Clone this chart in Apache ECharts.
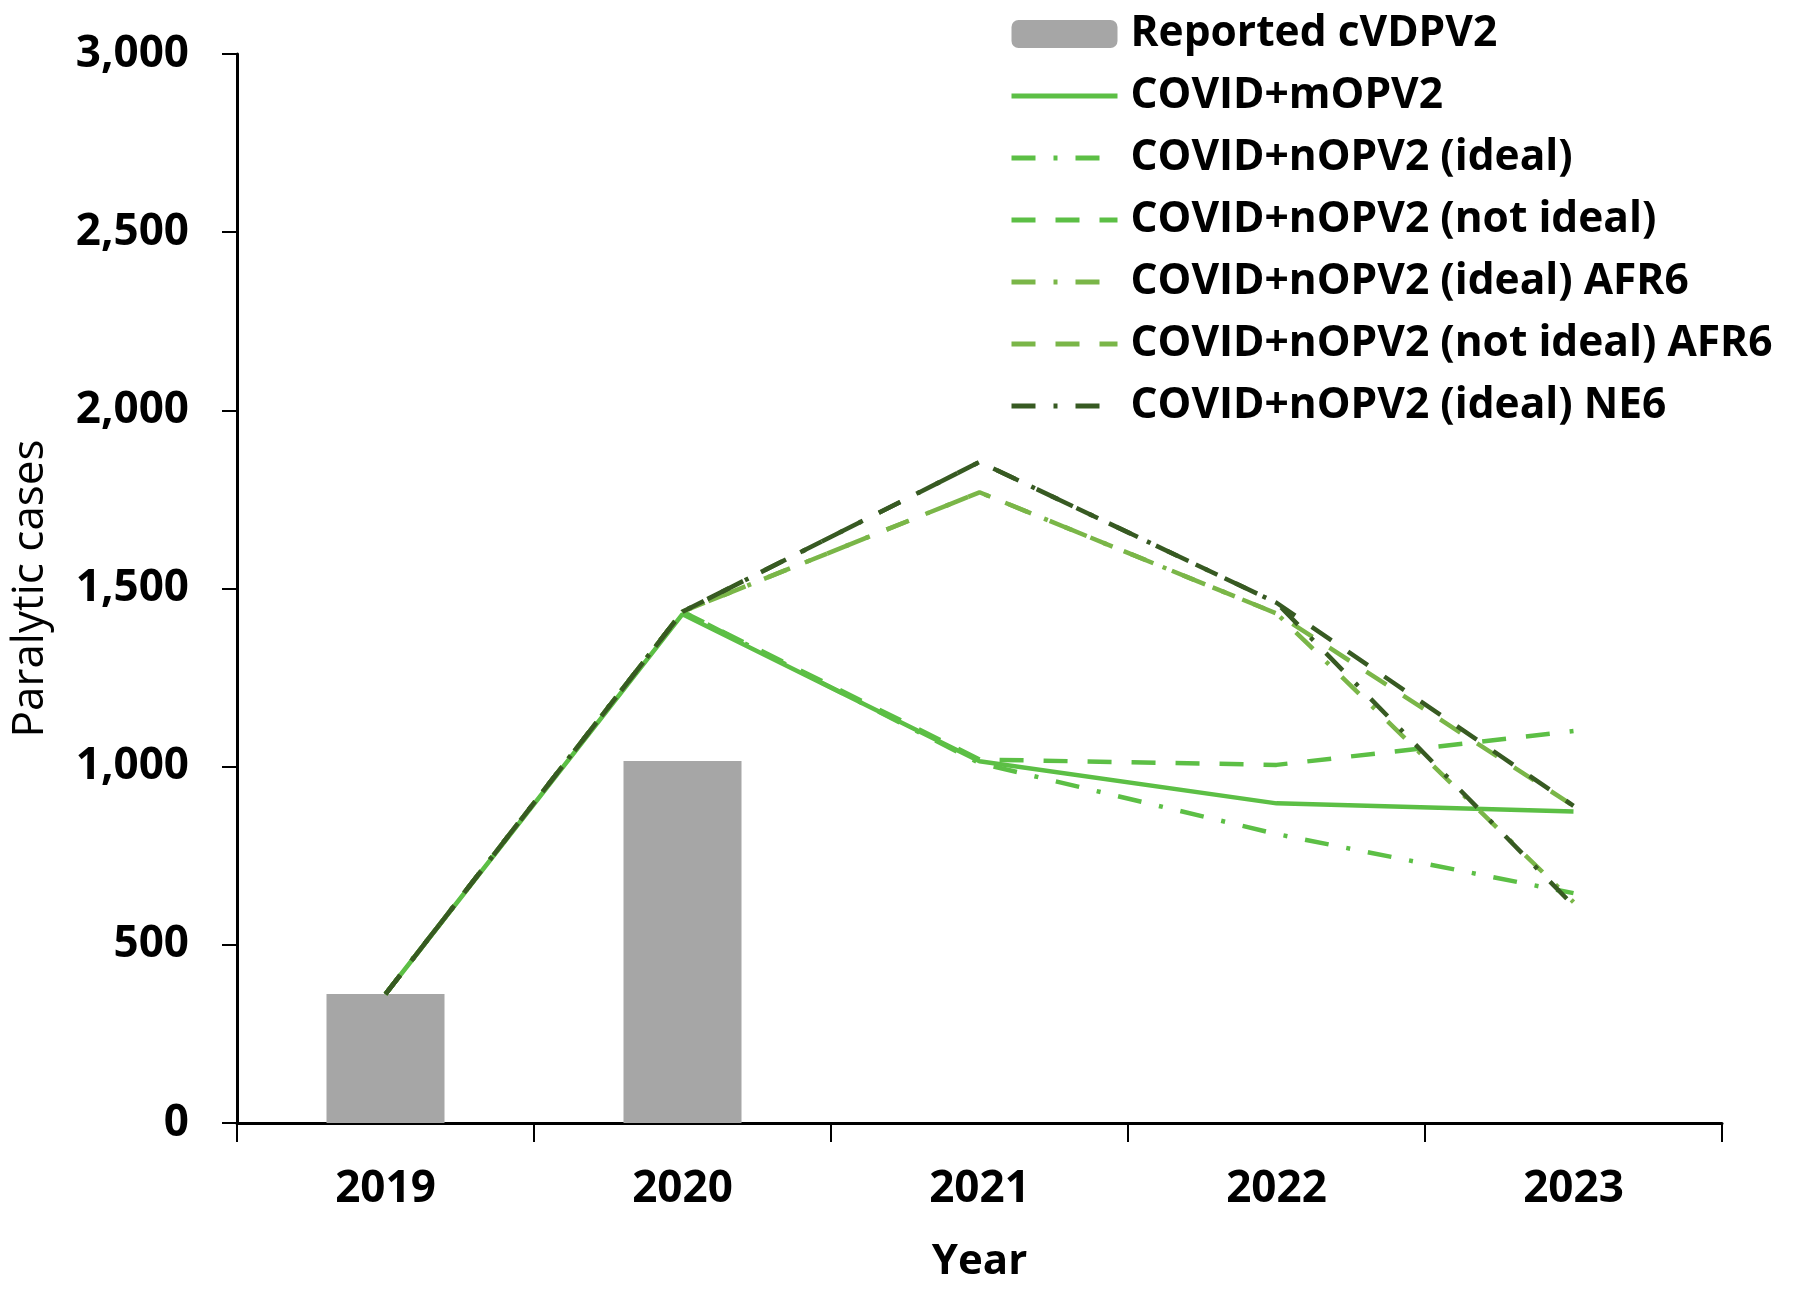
<!DOCTYPE html>
<html>
<head>
<meta charset="utf-8">
<script src="https://cdn.jsdelivr.net/npm/echarts@6/dist/echarts.min.js"></script>
<style>
html,body{margin:0;padding:0;background:#fff;}
#chart{width:1800px;height:1291px;}
</style>
</head>
<body>
<div id="chart"></div>
<script>
var years = ['2019', '2020', '2021', '2022', '2023'];
var reported = [362, 1016, null, null, null];
var mOPV2 = [362, 1428, 1015, 897, 874];
var nOPV2Ideal = [362, 1435, 1010, 811, 645];
var nOPV2NotIdeal = [362, 1435, 1020, 1005, 1100];
var nOPV2IdealAFR6 = [362, 1435, 1770, 1430, 620];
var nOPV2NotIdealAFR6 = [362, 1435, 1770, 1430, 890];
var nOPV2IdealNE6 = [362, 1435, 1855, 1460, 610];
var nOPV2NotIdealNE6 = [362, 1435, 1855, 1460, 890];

var names = ['Reported cVDPV2', 'COVID+mOPV2', 'COVID+nOPV2 (ideal)', 'COVID+nOPV2 (not ideal)',
  'COVID+nOPV2 (ideal) AFR6', 'COVID+nOPV2 (not ideal) AFR6', 'COVID+nOPV2 (ideal) NE6'];

var LIGHT = '#5cbf45', OLIVE = '#7ab648', DARK = '#375a22';
var DASHDOT = [24, 18, 4, 18], DASH = [24, 20];
function line(name, data, color, type, z) {
  return {
    name: name, type: 'line', data: data, symbol: 'none', z: z,
    lineStyle: {color: color, width: 4.5, type: type},
    itemStyle: {color: color}
  };
}
var legendData = names.map(function (n, i) {
  if (i === 0) return {name: n};
  return {name: n, itemStyle: {opacity: 0, borderWidth: 0}, lineStyle: {width: 5}};
});

var chart = echarts.init(document.getElementById('chart'));
chart.setOption({
  animation: false,
  backgroundColor: '#ffffff',
  textStyle: {fontFamily: 'Open Sans'},
  grid: {left: 235, right: 78, top: 54, bottom: 168, containLabel: false},
  legend: {
    data: legendData,
    orient: 'vertical',
    left: 1004, top: 7,
    itemWidth: 106, itemHeight: 28,
    itemGap: 18,
    textStyle: {fontFamily: 'Open Sans', fontWeight: 'bold', fontSize: 42.5, color: '#000', lineHeight: 44, padding: [0, 0, 0, 8]}
  },
  xAxis: {
    type: 'category', data: years, boundaryGap: true,
    name: 'Year', nameLocation: 'middle', nameGap: 118,
    nameTextStyle: {fontFamily: 'Open Sans', fontWeight: 'bold', fontSize: 42, color: '#000'},
    axisLine: {lineStyle: {color: '#000', width: 3}},
    axisTick: {show: true, length: 19, lineStyle: {color: '#000', width: 2}, alignWithLabel: false},
    axisLabel: {margin: 44, fontFamily: 'Open Sans', fontWeight: 'bold', fontSize: 44, color: '#000'},
    splitLine: {show: false}
  },
  yAxis: {
    type: 'value', min: 0, max: 3000, interval: 500,
    name: 'Paralytic cases', nameLocation: 'middle', nameGap: 185, nameRotate: 90,
    nameTextStyle: {fontFamily: 'Open Sans', fontSize: 44, color: '#000'},
    axisLine: {show: true, lineStyle: {color: '#000', width: 3}},
    axisTick: {show: true, length: 15, lineStyle: {color: '#000', width: 2}},
    axisLabel: {margin: 48, fontFamily: 'Open Sans', fontWeight: 'bold', fontSize: 44, color: '#000',
      formatter: function (v) { return v.toLocaleString('en-US'); }},
    splitLine: {show: false}
  },
  series: [
    {name: names[0], type: 'bar', data: reported, barWidth: 118, itemStyle: {color: '#a6a6a6'}, z: 1},
    line(names[1], mOPV2, LIGHT, 'solid', 3),
    line(names[2], nOPV2Ideal, LIGHT, DASHDOT, 3),
    line(names[3], nOPV2NotIdeal, LIGHT, DASH, 3),
    line(names[4], nOPV2IdealAFR6, OLIVE, DASHDOT, 4),
    line(names[5], nOPV2NotIdealAFR6, OLIVE, DASH, 4),
    line('COVID+nOPV2 (not ideal) NE6', nOPV2NotIdealNE6, DARK, DASH, 5),
    line(names[6], nOPV2IdealNE6, DARK, DASHDOT, 5)
  ]
});
</script>
</body>
</html>
